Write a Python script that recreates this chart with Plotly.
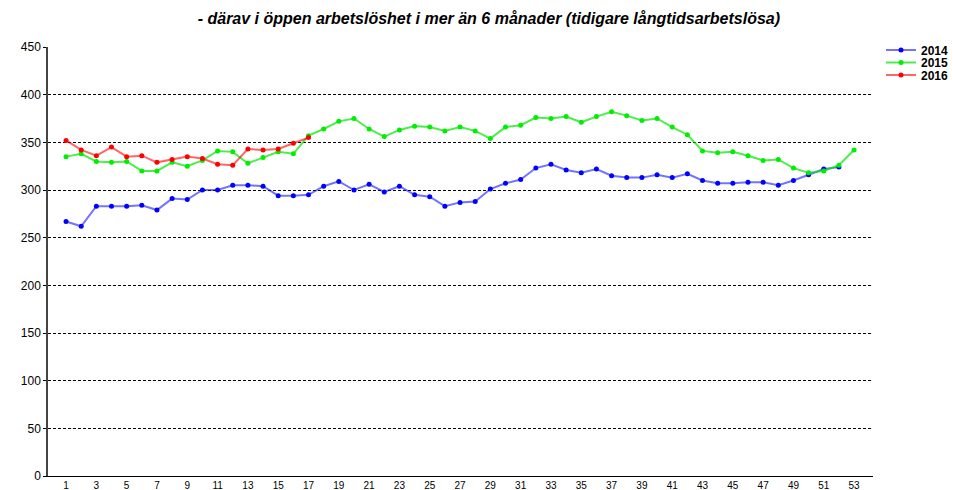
import plotly.graph_objects as go

weeks = list(range(1, 54))

v2014 = [267, 262, 283, 283, 283, 284, 279, 291, 290, 300, 300, 305, 305, 304, 294, 294, 295,
         304, 309, 300, 306, 298, 304, 295, 293, 283, 287, 288, 301, 307, 311, 323, 327, 321,
         318, 322, 315, 313, 313, 316, 313, 317, 310, 307, 307, 308, 308, 305, 310, 316, 322, 324]
v2015 = [335, 338, 330, 329, 330, 320, 320, 329, 325, 331, 341, 340, 328, 334, 340, 338, 357,
         364, 372, 375, 364, 356, 363, 367, 366, 362, 366, 362, 354, 366, 368, 376, 375, 377,
         371, 377, 382, 378, 373, 375, 366, 358, 341, 339, 340, 336, 331, 332, 323, 318, 320, 326, 342]
v2016 = [352, 342, 336, 345, 335, 336, 329, 332, 335, 333, 327, 326, 343, 342, 343, 349, 355]

series_names = ["2014", "2015", "2016"]
series_values = [v2014, v2015, v2016]
line_colors = ["rgba(0,0,255,0.55)", "rgba(0,230,0,0.7)", "rgba(255,0,0,0.6)"]
marker_colors = ["#0000ff", "#00ee00", "#ff0000"]

title_text = "- därav i öppen arbetslöshet i mer än 6 månader (tidigare långtidsarbetslösa)"
y_ticks = [0, 50, 100, 150, 200, 250, 300, 350, 400, 450]
x_ticks = list(range(1, 54, 2))

FONT = "Liberation Sans Narrow, Arial Narrow, Liberation Sans, Arial, sans-serif"
legend_ids = ["legend", "legend2", "legend3"]

fig = go.Figure()
for name, vals, lc, mc, lg in zip(series_names, series_values, line_colors, marker_colors, legend_ids):
    fig.add_trace(go.Scatter(
        x=weeks[:len(vals)], y=vals, name=name, mode="lines+markers",
        line=dict(color=lc, width=2),
        marker=dict(color=mc, size=5, symbol="circle"),
        legend=lg,
    ))

legend_style = dict(
    x=1.0097, xanchor="left", yanchor="middle",
    font=dict(family="Liberation Sans, Arial, sans-serif", size=12, color="black", weight="bold"),
    bgcolor="rgba(0,0,0,0)", itemwidth=30,
)
legend_rows = [50, 62.5, 75]  # pixel rows of legend entries
layout_legends = {}
for lg, row in zip(legend_ids, legend_rows):
    d = dict(legend_style)
    d["y"] = (476 - row) / 429
    layout_legends[lg] = d

fig.update_layout(
    width=953, height=490,
    paper_bgcolor="white", plot_bgcolor="white",
    margin=dict(l=48, r=80, t=47, b=14, autoexpand=False),
    title=dict(text="<b><i>" + title_text + "</i></b>", x=0.513, xanchor="center",
               y=1 - 18 / 490, yanchor="middle",
               font=dict(family=FONT, size=16, color="black")),
    showlegend=True,
    font=dict(family=FONT, size=11, color="black"),
    **layout_legends,
)

fig.update_xaxes(
    range=[-0.19, 54.25], tickmode="array", tickvals=x_ticks,
    ticktext=[str(t) for t in x_ticks],
    showgrid=False, zeroline=False, showline=True, linecolor="black", linewidth=1,
    ticks="", tickfont=dict(family=FONT, size=10, color="black"), automargin=False,
    ticklabelstandoff=0, fixedrange=True,
)
fig.update_yaxes(
    range=[0, 450], tickmode="array", tickvals=y_ticks,
    ticktext=[str(t) for t in y_ticks],
    showgrid=True, gridcolor="black", gridwidth=1, griddash="3px,2px",
    zeroline=False, showline=True, linecolor="#444444", linewidth=1.5,
    ticks="outside", ticklen=3, tickcolor="black",
    tickfont=dict(family=FONT, size=12, color="black"), automargin=False,
    fixedrange=True,
)

fig.write_html("out.html", config={"displayModeBar": False},
               post_script="document.body.style.margin='0';document.body.style.overflow='hidden';")
